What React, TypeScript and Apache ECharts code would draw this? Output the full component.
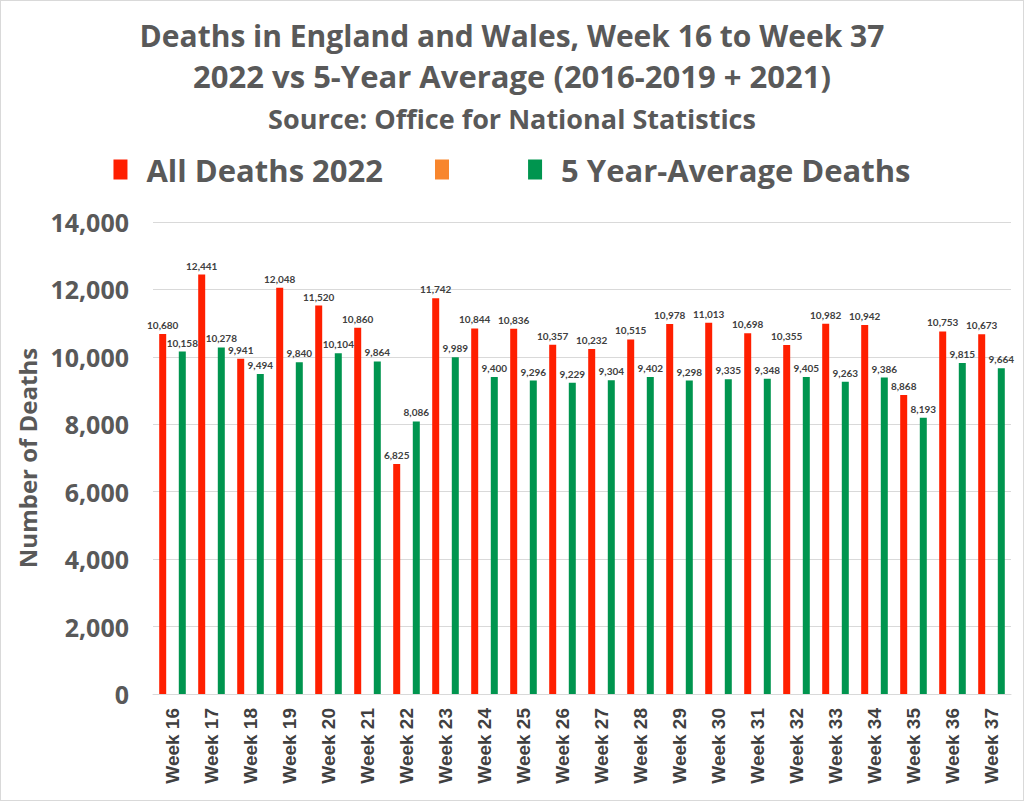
import { useEffect, useRef } from 'react'
import * as echarts from 'echarts'

const weeks = [
  'Week 16', 'Week 17', 'Week 18', 'Week 19', 'Week 20', 'Week 21', 'Week 22', 'Week 23',
  'Week 24', 'Week 25', 'Week 26', 'Week 27', 'Week 28', 'Week 29', 'Week 30', 'Week 31',
  'Week 32', 'Week 33', 'Week 34', 'Week 35', 'Week 36', 'Week 37',
]

const deaths2022 = [
  10680, 12441, 9941, 12048, 11520, 10860, 6825, 11742, 10844, 10836, 10357,
  10232, 10515, 10978, 11013, 10698, 10355, 10982, 10942, 8868, 10753, 10673,
]

const fiveYearAverage = [
  10158, 10278, 9494, 9840, 10104, 9864, 8086, 9989, 9400, 9296, 9229,
  9304, 9402, 9298, 9335, 9348, 9405, 9263, 9386, 8193, 9815, 9664,
]

// the third legend entry in the original has no name and no values
const unnamedSeries: (number | null)[] = weeks.map(() => null)

const titleLines = [
  'Deaths in England and Wales, Week 16 to Week 37',
  '2022 vs 5-Year Average (2016-2019 + 2021)',
  'Source: Office for National Statistics',
]

const FONT = '"Open Sans", Lato, sans-serif'
const LABEL_FONT = 'Lato, "Open Sans", sans-serif'
const AXIS_FONT = '"Liberation Sans", Arial, sans-serif'
const GREY = '#595959'

export default function App() {
  const chartRef = useRef<HTMLDivElement>(null)

  useEffect(() => {
    if (!chartRef.current) return
    document.body.style.margin = '0'

    const chart = echarts.init(chartRef.current, undefined, { renderer: 'svg' })

    const fmt = (v: number) => v.toLocaleString('en-GB')

    const label = {
      show: true,
      position: 'top' as const,
      distance: 4,
      fontFamily: LABEL_FONT,
      fontSize: 10,
      fontWeight: 'bold' as const,
      color: '#404040',
      formatter: (p: any) => (p.value == null ? '' : fmt(p.value)),
    }

    chart.setOption({
      animation: false,
      backgroundColor: '#ffffff',
      textStyle: { fontFamily: FONT },
      title: [
        {
          text: titleLines[0],
          left: 'center',
          top: 14,
          textStyle: { fontFamily: FONT, fontSize: 30, fontWeight: 'bold', color: GREY },
        },
        {
          text: titleLines[1],
          left: 'center',
          top: 54,
          textStyle: { fontFamily: FONT, fontSize: 31, fontWeight: 'bold', color: GREY },
        },
        {
          text: titleLines[2],
          left: 'center',
          top: 99,
          textStyle: { fontFamily: FONT, fontSize: 27, fontWeight: 'bold', color: GREY },
        },
      ],
      legend: {
        top: 148,
        left: 'center',
        itemWidth: 14,
        itemHeight: 20,
        itemGap: 52,
        icon: 'rect',
        data: ['All Deaths 2022', ' ', '5 Year-Average Deaths'],
        textStyle: {
          fontFamily: FONT,
          fontSize: 31,
          fontWeight: 'bold',
          color: GREY,
          padding: [0, 0, 0, 14],
        },
      },
      grid: { left: 152, right: 12, top: 221, bottom: 106, containLabel: false },
      xAxis: {
        type: 'category',
        data: weeks,
        axisLine: { show: true, lineStyle: { color: '#d9d9d9', width: 1 } },
        axisTick: { show: false },
        axisLabel: {
          rotate: 90,
          margin: 14,
          fontFamily: AXIS_FONT,
          fontSize: 19,
          fontWeight: 'bold',
          color: '#404040',
          interval: 0,
        },
      },
      yAxis: {
        type: 'value',
        min: 0,
        max: 14000,
        interval: 2000,
        name: 'Number of Deaths',
        nameLocation: 'middle',
        nameGap: 102,
        nameTextStyle: { fontFamily: FONT, fontSize: 24, fontWeight: 'bold', color: GREY },
        axisLine: { show: false },
        axisTick: { show: false },
        axisLabel: {
          margin: 24,
          fontFamily: FONT,
          fontSize: 25,
          fontWeight: 'bold',
          color: GREY,
          formatter: (v: number) => fmt(v),
        },
        splitLine: { lineStyle: { color: '#d9d9d9', width: 1 } },
      },
      series: [
        {
          name: 'All Deaths 2022',
          type: 'bar',
          data: deaths2022,
          barWidth: 7,
          barGap: '40%',
          itemStyle: { color: '#ff1f00' },
          label,
        },
        {
          name: ' ',
          type: 'bar',
          data: unnamedSeries,
          barWidth: 7,
          barGap: '40%',
          itemStyle: { color: '#f8862d' },
        },
        {
          name: '5 Year-Average Deaths',
          type: 'bar',
          data: fiveYearAverage,
          barWidth: 7,
          barGap: '40%',
          itemStyle: { color: '#00954f' },
          label,
        },
      ],
    })

    return () => {
      chart.dispose()
    }
  }, [])

  return (
    <div
      style={{
        position: 'absolute',
        left: 0,
        top: 0,
        width: 1024,
        height: 801,
        boxSizing: 'border-box',
        border: '1px solid #d9d9d9',
      }}
    >
      <div ref={chartRef} style={{ width: '100%', height: '100%' }} />
    </div>
  )
}
